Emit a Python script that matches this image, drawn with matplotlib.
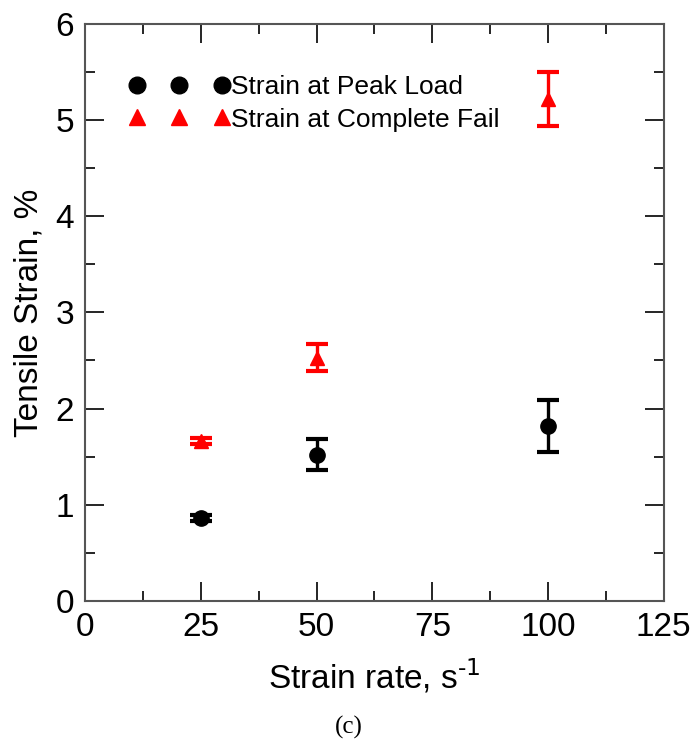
import numpy as np
import matplotlib
matplotlib.use('Agg')
import matplotlib.pyplot as plt
from matplotlib.lines import Line2D
from matplotlib.ticker import MultipleLocator

plt.rcParams['font.family'] = ['Liberation Sans', 'DejaVu Sans']
plt.rcParams['mathtext.default'] = 'regular'

strain_rate = np.array([25, 50, 100])
peak_strain = np.array([0.86, 1.52, 1.82])
peak_err = np.array([0.03, 0.16, 0.27])
fail_strain = np.array([1.66, 2.53, 5.22])
fail_err = np.array([0.03, 0.14, 0.28])

fig = plt.figure(figsize=(6.98, 7.42), dpi=100)
ax = fig.add_axes([0.122, 0.19, 0.829, 0.778])

ax.errorbar(strain_rate, peak_strain, yerr=peak_err, fmt='o', color='black',
            markersize=11, elinewidth=2.4, capsize=8, capthick=3)
ax.errorbar(strain_rate, fail_strain, yerr=fail_err, fmt='^', color='red',
            markersize=10, elinewidth=2.4, capsize=8, capthick=3)

# legend with three markers per entry, no error bars
h1 = Line2D([], [], ls='none', marker='o', color='black', markersize=12)
h2 = Line2D([], [], ls='none', marker='^', color='red', markersize=11)
ax.legend([h1, h2], ['Strain at Peak Load', 'Strain at Complete Fail'],
          numpoints=3, handlelength=3.8, handletextpad=0.05, frameon=False,
          loc='upper left', bbox_to_anchor=(0.035, 0.952), fontsize=19,
          labelspacing=0.32)

ax.set_xlim(0, 125)
ax.set_ylim(0, 6)
ax.xaxis.set_major_locator(MultipleLocator(25))
ax.xaxis.set_minor_locator(MultipleLocator(12.5))
ax.yaxis.set_major_locator(MultipleLocator(1))
ax.yaxis.set_minor_locator(MultipleLocator(0.5))
ax.tick_params(which='both', direction='in', top=True, right=True, width=1.2)
ax.tick_params(which='major', length=14, labelsize=24, pad=8)
ax.tick_params(which='minor', length=7)
for s in ax.spines.values():
    s.set_color('#555555')
    s.set_linewidth(1.5)

ax.set_xlabel(r'Strain rate, s$^{\text{-1}}$', fontsize=24, labelpad=10)
ax.set_ylabel('Tensile Strain, %', fontsize=24, labelpad=8)

fig.text(0.5, 0.02, '(c)', family='Liberation Serif', fontsize=18,
         ha='center', va='center')

fig.savefig('out.png', dpi=100)
